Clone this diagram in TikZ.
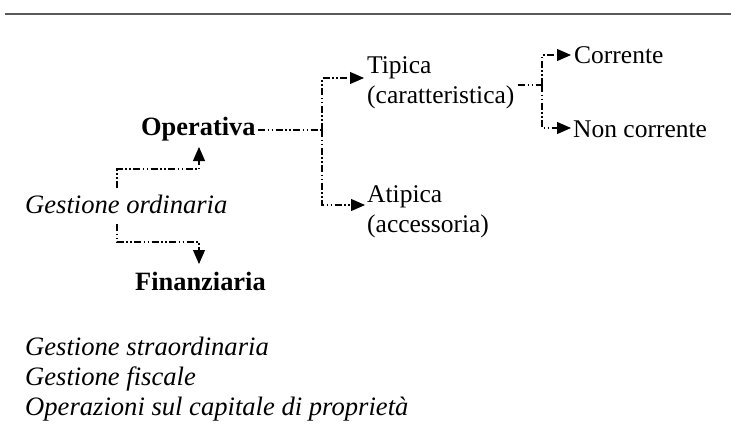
\documentclass[tikz,border=0pt]{standalone}
\usepackage{fontspec}
\setmainfont{Liberation Serif}
\usetikzlibrary{arrows.meta}
\begin{document}
\begin{tikzpicture}[x=1pt,y=-1pt,
  lbl/.style={anchor=base west,inner sep=0pt,font=\fontsize{25.5}{30}\selectfont},
  bold/.style={lbl,font=\fontsize{26.4}{30}\selectfont\bfseries},
  ital/.style={lbl,font=\fontsize{26.6}{30}\selectfont\itshape},
  conn/.style={line width=1.1pt,dash pattern=on 7pt off 2.5pt on 1.5pt off 2.5pt on 1.5pt off 2.5pt},
  arr/.style={conn,-{Triangle[length=14pt,width=12pt]}}]
\useasboundingbox (0,0) rectangle (731,439);
\draw[line width=2pt,color=black!65] (5,14) -- (731,14);

\node[bold] (oper) at (141,135) {Operativa};
\node[bold] (fin) at (135,290) {Finanziaria};
\node[ital] (ord) at (25,213) {Gestione ordinaria};
\node[lbl] (tip) at (367,73) {Tipica};
\node[lbl] (car) at (367,103) {(caratteristica)};
\node[lbl] (atip) at (367,202) {Atipica};
\node[lbl] (acc) at (367,232) {(accessoria)};
\node[lbl] (corr) at (574,63) {Corrente};
\node[lbl] (ncorr) at (573,137) {Non corrente};
\node[ital] (s1) at (25,355) {Gestione straordinaria};
\node[ital] (s2) at (25,385) {Gestione fiscale};
\node[ital] (s3) at (25,415) {Operazioni sul capitale di proprietà};

% left bracket
\coordinate (lt) at (117,169);
\coordinate (lb) at (117,242);
\draw[arr] (117,188) -- (lt) -- (199,169) -- (199,147);
\draw[arr] (117,224) -- (lb) -- (199,242) -- (199,264);

% operativa branch
\coordinate (oj) at (322,130);
\draw[conn] (258,130) -- (oj);
\draw[arr] (oj) -- (322,78) -- (364,78);
\draw[arr] (oj) -- (322,205) -- (365,205);

% tipica branch
\coordinate (tj) at (542,85);
\draw[conn] (518,85) -- (tj);
\draw[arr] (tj) -- (542,55) -- (571,55);
\draw[arr] (tj) -- (542,128) -- (571,128);
\end{tikzpicture}
\end{document}
